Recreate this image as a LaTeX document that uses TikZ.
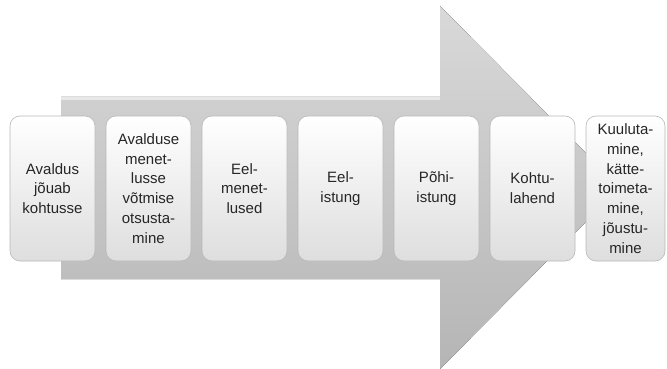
\documentclass[tikz,border=0pt]{standalone}
\usepackage{fontspec}
\setmainfont{Liberation Sans}
\begin{document}
\begin{tikzpicture}[x=1pt,y=-1pt]
\tikzset{
  stage/.style={rounded corners=10pt, draw=black!28, line width=0.6pt,
    top color=white, bottom color=black!13, minimum height=145pt,
    minimum width=85pt, text width=80pt, align=center, inner sep=0pt,
    font=\fontsize{15}{19.8}\selectfont, text=black!85},
  arrowbody/.style={top color=black!15, bottom color=black!29, draw=none}
}
\useasboundingbox (0,0) rectangle (667,369);
% big arrow
\fill[arrowbody] (61,97) -- (440,97) -- (440,6) -- (620,187.5) -- (440,369) -- (440,279) -- (61,279) -- cycle;
\fill[black!9] (61,97) rectangle (440,100);
% stages
\node[stage] (s1) at (52.5,188.5) {Avaldus\\jõuab\\kohtusse};
\node[stage] (s2) at (148.5,188.5) {Avalduse\\menet-\\lusse\\võtmise\\otsusta-\\mine};
\node[stage] (s3) at (244.5,188.5) {Eel-\\menet-\\lused};
\node[stage] (s4) at (340.5,188.5) {Eel-\\istung};
\node[stage] (s5) at (436.5,188.5) {Põhi-\\istung};
\node[stage] (s6) at (532.5,188.5) {Kohtu-\\lahend};
\node[stage, minimum width=79pt, text width=76pt] (s7) at (625.5,188.5) {Kuuluta-\\mine,\\kätte-\\toimeta-\\mine,\\jõustu-\\mine};
\end{tikzpicture}
\end{document}
